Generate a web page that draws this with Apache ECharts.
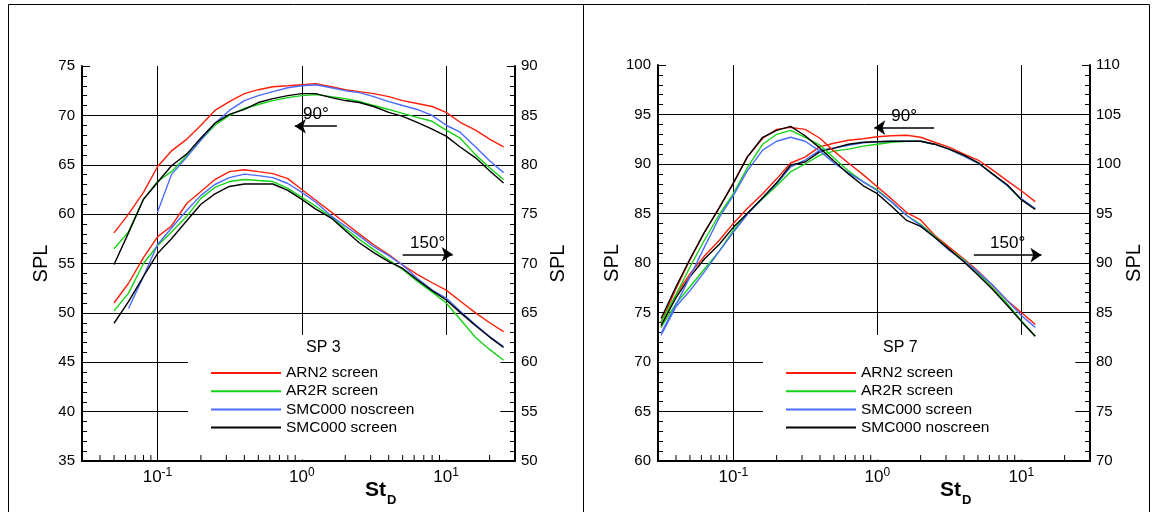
<!DOCTYPE html>
<html>
<head>
<meta charset="utf-8">
<script src="https://cdn.jsdelivr.net/npm/echarts@6/dist/echarts.min.js"></script>
<style>
html,body{margin:0;padding:0;background:#fff;}
#chart{width:1154px;height:512px;}
</style>
</head>
<body>
<div id="chart"></div>
<script>
// ---------- DATA ----------
// SP 3 (left panel)
const stSP3 = [0.05, 0.063, 0.08, 0.1, 0.125, 0.16, 0.2, 0.25, 0.315, 0.4, 0.5, 0.63, 0.8, 1.0, 1.25, 1.6, 2.0, 2.5, 3.15, 4, 5, 6.3, 8, 10, 12.5, 16, 20, 25];
const stSP3blue90 = [0.1, 0.125, 0.16, 0.2, 0.25, 0.315, 0.4, 0.5, 0.63, 0.8, 1.0, 1.25, 1.6, 2.0, 2.5, 3.15, 4, 5, 6.3, 8, 10, 12.5, 16, 20, 25];
const stSP3blue150 = [0.063, 0.08, 0.1, 0.125, 0.16, 0.2, 0.25, 0.315, 0.4, 0.5, 0.63, 0.8, 1.0, 1.25, 1.6, 2.0, 2.5, 3.15, 4, 5, 6.3, 8, 10, 12.5, 16, 20, 25];
// 90 deg (left axis)
const sp3_90_arn2   = [58.1, 60.0, 62.2, 64.8, 66.4, 67.6, 69.0, 70.5, 71.4, 72.2, 72.6, 72.9, 73.0, 73.1, 73.2, 72.9, 72.6, 72.4, 72.2, 71.9, 71.5, 71.2, 70.9, 70.3, 69.3, 68.5, 67.6, 66.8];
const sp3_90_ar2r   = [56.5, 58.2, 61.5, 63.3, 64.3, 65.9, 67.5, 69.0, 70.0, 70.7, 71.1, 71.5, 71.8, 72.0, 72.1, 71.9, 71.7, 71.4, 71.0, 70.6, 70.2, 69.8, 69.4, 68.5, 67.7, 66.0, 64.7, 63.5];
const sp3_90_smcNo  = [60.2, 64.0, 65.8, 67.5, 69.2, 70.5, 71.5, 72.0, 72.4, 72.8, 73.0, 73.1, 72.8, 72.5, 72.3, 71.9, 71.4, 71.0, 70.6, 70.0, 69.0, 68.3, 66.8, 65.4, 64.2];
const sp3_90_smcScr = [54.9, 58.1, 61.5, 63.2, 64.9, 66.1, 67.7, 69.2, 70.1, 70.6, 71.3, 71.7, 72.0, 72.2, 72.2, 71.8, 71.5, 71.3, 70.9, 70.3, 69.9, 69.3, 68.6, 67.9, 66.8, 65.7, 64.4, 63.15];
// 150 deg (right axis)
const sp3_150_arn2   = [66.0, 68.0, 70.6, 72.7, 73.8, 76.1, 77.3, 78.5, 79.3, 79.5, 79.3, 79.1, 78.6, 77.5, 76.4, 75.2, 74.1, 73.0, 71.9, 70.9, 69.85, 68.9, 68.05, 67.3, 66.2, 65.0, 64.0, 63.1];
const sp3_150_ar2r   = [65.2, 67.0, 70.0, 71.8, 73.2, 74.8, 76.6, 77.7, 78.3, 78.5, 78.4, 78.3, 77.6, 76.7, 75.8, 74.7, 73.55, 72.45, 71.4, 70.35, 69.4, 68.2, 67.1, 66.0, 64.35, 62.5, 61.3, 60.2];
const sp3_150_smcNo  = [65.45, 68.7, 71.9, 73.6, 75.4, 76.9, 78.0, 78.7, 79.05, 78.9, 78.7, 78.1, 77.2, 76.2, 74.8, 73.8, 72.8, 71.7, 70.8, 69.85, 68.5, 67.3, 66.5, 65.2, 63.8, 62.6, 61.6];
const sp3_150_smcScr = [63.95, 66.15, 68.7, 71.0, 72.5, 74.35, 76.0, 77.05, 77.8, 78.05, 78.05, 78.05, 77.4, 76.5, 75.5, 74.6, 73.35, 72.1, 71.1, 70.2, 69.5, 68.35, 67.25, 66.3, 65.05, 63.7, 62.55, 61.5];

// SP 7 (right panel)
const stSP7 = [0.0315, 0.04, 0.05, 0.063, 0.08, 0.1, 0.125, 0.16, 0.2, 0.25, 0.315, 0.4, 0.5, 0.63, 0.8, 1.0, 1.25, 1.6, 2.0, 2.5, 3.15, 4, 5, 6.3, 8, 10, 12.5];
// 90 deg (left axis)
const sp7_90_arn2   = [73.5, 76.8, 78.9, 80.7, 82.3, 84.0, 85.5, 87.0, 88.5, 90.1, 90.7, 91.75, 92.1, 92.4, 92.55, 92.75, 92.85, 92.9, 92.7, 92.2, 91.7, 91.0, 90.4, 89.4, 88.3, 87.3, 86.2];
const sp7_90_ar2r   = [73.5, 75.9, 77.6, 79.4, 81.2, 83.3, 85.0, 86.5, 87.8, 89.2, 90.0, 90.9, 91.3, 91.5, 91.8, 92.0, 92.2, 92.3, 92.3, 92.0, 91.5, 90.8, 90.1, 89.0, 87.8, 86.4, 85.5];
const sp7_90_smcScr = [72.7, 75.6, 77.2, 79.1, 81.2, 83.1, 84.9, 86.6, 88.0, 89.7, 90.4, 91.4, 91.6, 91.9, 92.15, 92.25, 92.3, 92.3, 92.3, 92.0, 91.5, 90.8, 90.1, 89.0, 87.8, 86.5, 85.5];
const sp7_90_smcNo  = [73.7, 76.5, 78.6, 80.4, 81.9, 83.6, 85.0, 86.6, 88.1, 89.9, 90.2, 91.25, 91.6, 92.0, 92.2, 92.25, 92.3, 92.3, 92.3, 92.0, 91.5, 90.9, 90.15, 89.0, 87.9, 86.4, 85.4];
// 150 deg (right axis)
const sp7_150_arn2   = [84.0, 87.4, 90.3, 93.1, 95.6, 98.1, 100.7, 102.6, 103.5, 103.7, 103.5, 102.6, 101.3, 100.1, 98.9, 97.7, 96.5, 95.1, 94.35, 92.8, 91.6, 90.4, 89.2, 87.75, 86.2, 85.0, 83.8];
const sp7_150_ar2r   = [84.0, 86.8, 89.6, 92.3, 94.9, 97.0, 99.6, 102.0, 103.0, 103.4, 102.7, 101.9, 100.6, 99.3, 98.2, 97.4, 96.2, 94.8, 93.9, 92.7, 91.4, 90.3, 89.0, 87.5, 85.9, 84.2, 82.6];
const sp7_150_smcScr = [82.9, 85.8, 88.6, 91.6, 94.6, 96.8, 99.3, 101.4, 102.3, 102.7, 102.3, 101.3, 100.1, 99.1, 98.2, 97.3, 96.2, 94.8, 93.8, 92.6, 91.3, 90.2, 89.1, 87.8, 86.2, 84.7, 83.5];
const sp7_150_smcNo  = [84.4, 87.6, 90.4, 93.1, 95.6, 98.05, 100.7, 102.7, 103.4, 103.8, 102.85, 101.6, 100.3, 99.0, 97.8, 97.0, 95.75, 94.3, 93.7, 92.6, 91.4, 90.1, 88.8, 87.35, 85.7, 84.1, 82.6];

// legend names
const namesSP3 = ['ARN2 screen', 'AR2R screen', 'SMC000 noscreen', 'SMC000 screen'];
const namesSP7 = ['ARN2 screen', 'AR2R screen', 'SMC000 screen', 'SMC000 noscreen'];
// log-axis minor tick positions
const minorTicksX = [0.04, 0.05, 0.06, 0.07, 0.08, 0.09, 0.2, 0.3, 0.4, 0.5, 0.6, 0.7, 0.8, 0.9, 2, 3, 4, 5, 6, 7, 8, 9, 20];
// annotation arrows [from St, to St, level]
const arrowSP3_90  = [1.75, 0.895, 68.9];
const arrowSP3_150 = [5.0, 11.1, 70.93];
const arrowSP7_90  = [2.48, 0.953, 93.67];
const arrowSP7_150 = [4.68, 13.8, 90.8];

// ---------- CHART ----------
const FONT = "'Liberation Sans', Arial, Helvetica, sans-serif";
const RED = '#ff1e0a', GREEN = '#14d214', BLUE = '#4b6bff', BLACK = '#000000';
const chart = echarts.init(document.getElementById('chart'), null, {renderer: 'canvas'});

function pairs(xs, ys) { return ys.map((y, i) => [xs[i], y]); }
function lineSeries(name, xs, ys, color, xi, yi, extra) {
  return Object.assign({
    type: 'line', name: name, xAxisIndex: xi, yAxisIndex: yi, z: 6,
    data: pairs(xs, ys), symbol: 'none', showSymbol: false,
    lineStyle: {color: color, width: 1.4}, itemStyle: {color: color},
    emphasis: {disabled: true}, silent: true, animation: false
  }, extra || {});
}
function arrowMark(a, label) {
  return {
    silent: true, animation: false,
    symbol: ['none', 'arrow'], symbolSize: 11,
    lineStyle: {color: '#000', width: 1.5, type: 'solid'},
    label: {show: true, position: 'middle', formatter: label, color: '#000', fontSize: 17, fontFamily: FONT, distance: 3},
    data: [[{coord: [a[0], a[2]]}, {coord: [a[1], a[2]]}]]
  };
}
function xAxis(gi) {
  return {
    type: 'log', logBase: 10, gridIndex: gi, min: 0.03, max: 30,
    axisLine: {show: true, onZero: false, lineStyle: {color: '#000', width: 2}},
    axisTick: {show: true, inside: true, length: 8, lineStyle: {color: '#000'}},
    axisLabel: {
      margin: 6, color: '#000',
      formatter: function (v) {
        const l = Math.log10(v), e = Math.round(l);
        if (Math.abs(l - e) > 1e-6) return '';
        return '{b|10}{s|' + e + '}';
      },
      rich: {
        b: {fontSize: 17, fontFamily: FONT, color: '#000', lineHeight: 20},
        s: {fontSize: 12, fontFamily: FONT, color: '#000', verticalAlign: 'top', lineHeight: 12}
      }
    },
    splitLine: {show: true, showMinLine: false, showMaxLine: false, lineStyle: {color: '#000', width: 1}}
  };
}
function yAxis(gi, min, max, pos, split) {
  return {
    type: 'value', gridIndex: gi, min: min, max: max, interval: 5, position: pos,
    axisLine: {show: true, onZero: false, lineStyle: {color: '#000', width: 2}},
    axisTick: {show: true, inside: true, length: 8, lineStyle: {color: '#000'}},
    minorTick: {show: true, splitNumber: 5, length: 5, lineStyle: {color: '#000'}},
    axisLabel: {fontSize: 15, fontFamily: FONT, color: '#000', margin: pos === 'left' ? 7 : 6},
    splitLine: {show: split, showMinLine: false, showMaxLine: false, lineStyle: {color: '#000', width: 1}},
    name: 'SPL', nameLocation: 'middle', nameRotate: 90, nameGap: pos === 'left' ? 31 : 33,
    nameTextStyle: {fontSize: 20, fontFamily: FONT, color: '#000'}
  };
}
function tickSeries(xi, yi, ymin) {
  return {
    type: 'custom', xAxisIndex: xi, yAxisIndex: yi, silent: true, z: 10, animation: false,
    data: minorTicksX.map(v => [v, ymin]),
    renderItem: function (params, api) {
      const p = api.coord([api.value(0), api.value(1)]);
      return {type: 'line', shape: {x1: p[0], y1: p[1], x2: p[0], y2: p[1] - 6},
              style: {stroke: '#000', lineWidth: 1}};
    }
  };
}
function legend(names, tag, left) {
  return {
    data: names.map(n => n + '|' + tag), orient: 'vertical', left: left, top: 335,
    padding: [30, 86, 24, 22], itemWidth: 70, itemHeight: 14, itemGap: 2.2, itemTextGap: 10,
    backgroundColor: '#fff', selectedMode: false, z: 4,
    itemStyle: {opacity: 0},
    textStyle: {fontSize: 15.5, fontFamily: FONT, color: '#000'},
    formatter: n => n.split('|')[0]
  };
}

const series = [
  lineSeries(namesSP3[0] + '|3', stSP3, sp3_90_arn2, RED, 0, 0, {markLine: arrowMark(arrowSP3_90, '90°')}),
  lineSeries(namesSP3[1] + '|3', stSP3, sp3_90_ar2r, GREEN, 0, 0),
  lineSeries(namesSP3[2] + '|3', stSP3blue90, sp3_90_smcNo, BLUE, 0, 0),
  lineSeries(namesSP3[3] + '|3', stSP3, sp3_90_smcScr, BLACK, 0, 0),
  lineSeries(namesSP3[0] + '|3', stSP3, sp3_150_arn2, RED, 0, 1, {markLine: arrowMark(arrowSP3_150, '150°')}),
  lineSeries(namesSP3[1] + '|3', stSP3, sp3_150_ar2r, GREEN, 0, 1),
  lineSeries(namesSP3[2] + '|3', stSP3blue150, sp3_150_smcNo, BLUE, 0, 1),
  lineSeries(namesSP3[3] + '|3', stSP3, sp3_150_smcScr, BLACK, 0, 1),

  lineSeries(namesSP7[0] + '|7', stSP7, sp7_90_arn2, RED, 1, 2, {markLine: arrowMark(arrowSP7_90, '90°')}),
  lineSeries(namesSP7[1] + '|7', stSP7, sp7_90_ar2r, GREEN, 1, 2),
  lineSeries(namesSP7[2] + '|7', stSP7, sp7_90_smcScr, BLUE, 1, 2),
  lineSeries(namesSP7[3] + '|7', stSP7, sp7_90_smcNo, BLACK, 1, 2),
  lineSeries(namesSP7[0] + '|7', stSP7, sp7_150_arn2, RED, 1, 3, {markLine: arrowMark(arrowSP7_150, '150°')}),
  lineSeries(namesSP7[1] + '|7', stSP7, sp7_150_ar2r, GREEN, 1, 3),
  lineSeries(namesSP7[2] + '|7', stSP7, sp7_150_smcScr, BLUE, 1, 3),
  lineSeries(namesSP7[3] + '|7', stSP7, sp7_150_smcNo, BLACK, 1, 3),

  tickSeries(0, 0, 35),
  tickSeries(1, 2, 60)
];

const option = {
  animation: false,
  backgroundColor: '#fff',
  grid: [
    {left: 82, top: 66, width: 433, height: 395},
    {left: 658, top: 65, width: 432, height: 396}
  ],
  xAxis: [xAxis(0), xAxis(1)],
  yAxis: [
    yAxis(0, 35, 75, 'left', true),
    yAxis(0, 50, 90, 'right', false),
    yAxis(1, 60, 100, 'left', true),
    yAxis(1, 70, 110, 'right', false)
  ],
  legend: [legend(namesSP3, '3', 188), legend(namesSP7, '7', 763)],
  series: series,
  graphic: [
    {type: 'rect', z: 100, silent: true, shape: {x: 8.5, y: 4.5, width: 1141, height: 520}, style: {fill: 'none', stroke: '#000', lineWidth: 1}},
    {type: 'line', z: 100, silent: true, shape: {x1: 583.5, y1: 4, x2: 583.5, y2: 512}, style: {stroke: '#000', lineWidth: 1}},
    {type: 'text', z: 100, left: 306, top: 340, style: {text: 'SP 3', fontSize: 16, fontFamily: FONT, fill: '#000'}},
    {type: 'text', z: 100, left: 883, top: 340, style: {text: 'SP 7', fontSize: 16, fontFamily: FONT, fill: '#000'}},
    {type: 'text', z: 100, left: 365, top: 480, style: {text: 'St', fontSize: 21, fontWeight: 'bold', fontFamily: FONT, fill: '#000'}},
    {type: 'text', z: 100, left: 387, top: 494, style: {text: 'D', fontSize: 13, fontWeight: 'bold', fontFamily: FONT, fill: '#000'}},
    {type: 'text', z: 100, left: 940, top: 480, style: {text: 'St', fontSize: 21, fontWeight: 'bold', fontFamily: FONT, fill: '#000'}},
    {type: 'text', z: 100, left: 962, top: 494, style: {text: 'D', fontSize: 13, fontWeight: 'bold', fontFamily: FONT, fill: '#000'}}
  ]
};
chart.setOption(option);
</script>
</body>
</html>
